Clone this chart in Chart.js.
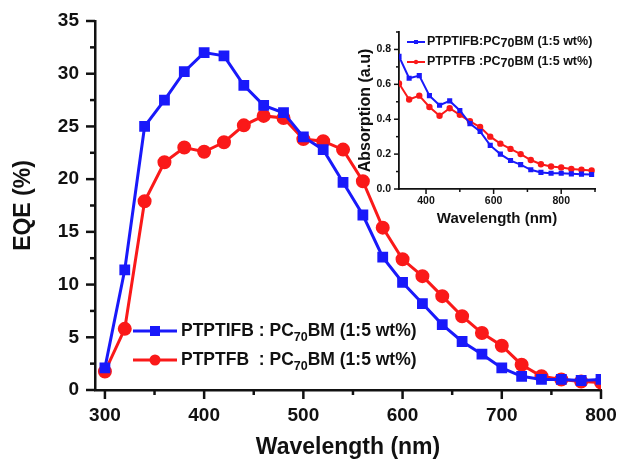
<!DOCTYPE html>
<html>
<head>
<meta charset="utf-8">
<script src="https://cdn.jsdelivr.net/npm/chart.js@4.4.1/dist/chart.umd.min.js"></script>
<style>
  body { margin: 0; background: #fff; }
  #wrap { position: relative; width: 617px; height: 464px; }
  #main { position: absolute; left: 0; top: 0; }
  #inset { position: absolute; left: 352px; top: 22px; }
</style>
</head>
<body>
<div id="wrap">
  <canvas id="main" width="617" height="464"></canvas>
  <canvas id="inset" width="260" height="210"></canvas>
</div>
<script>
// EQE curves (main plot)
const wavelengths = [300, 320, 340, 360, 380, 400, 420, 440, 460, 480, 500, 520, 540,
                     560, 580, 600, 620, 640, 660, 680, 700, 720, 740, 760, 780, 800];
const eqePTPTIFB = [2.1, 11.4, 25.0, 27.5, 30.2, 32.0, 31.7, 28.9, 27.0, 26.3, 24.0, 22.8, 19.7,
                    16.6, 12.6, 10.2, 8.2, 6.2, 4.6, 3.4, 2.1, 1.3, 1.0, 1.0, 0.9, 1.0];
const eqePTPTFB = [1.75, 5.8, 17.9, 21.6, 23.0, 22.6, 23.5, 25.1, 26.0, 25.8, 23.8, 23.6, 22.8,
                   19.8, 15.4, 12.4, 10.8, 8.9, 7.0, 5.4, 4.2, 2.4, 1.3, 1.0, 0.8, 0.7];
const xTicksMain = [300, 350, 400, 450, 500, 550, 600, 650, 700, 750, 800];
const yTicksMain = [0, 2.5, 5, 7.5, 10, 12.5, 15, 17.5, 20, 22.5, 25, 27.5, 30, 32.5, 35];

// absorption curves (inset)
const absWavelengths = [320, 350, 380, 410, 440, 470, 500, 530, 560, 590,
                        620, 650, 680, 710, 740, 770, 800, 830, 860, 890];
const absPTPTIFB = [0.76, 0.635, 0.65, 0.535, 0.48, 0.505, 0.45, 0.375, 0.33, 0.25,
                    0.20, 0.163, 0.14, 0.11, 0.095, 0.09, 0.09, 0.087, 0.085, 0.083];
const absPTPTFB = [0.605, 0.513, 0.535, 0.47, 0.42, 0.463, 0.425, 0.388, 0.355, 0.30,
                   0.26, 0.23, 0.20, 0.166, 0.142, 0.129, 0.123, 0.115, 0.11, 0.106];
const xTicksInset = [400, 500, 600, 700, 800, 900];
const yTicksInset = [0, 0.1, 0.2, 0.3, 0.4, 0.5, 0.6, 0.7, 0.8, 0.9];

const BLUE = 'rgb(25,25,250)';
const RED = 'rgb(250,25,25)';
const FONT = "'Liberation Sans', Arial, sans-serif";

function pts(xs, ys) {
    return xs.map((x, i) => ({ x: x, y: ys[i] }));
}

// outward tick marks, long for major and short for minor
const tickMarks = {
    id: 'tickMarks',
    afterDraw(chart, args, opts) {
        const ctx = chart.ctx;
        ctx.save();
        ctx.strokeStyle = '#111';
        ctx.lineWidth = opts.width;
        ['x', 'y'].forEach(function (id) {
            const s = chart.scales[id];
            s.ticks.forEach(function (t) {
                const major = Math.abs(t.value / opts[id] - Math.round(t.value / opts[id])) < 1e-6;
                const len = major ? opts.major : opts.minor;
                const p = s.getPixelForValue(t.value);
                ctx.beginPath();
                if (id === 'x') {
                    ctx.moveTo(p, s.top);
                    ctx.lineTo(p, s.top + len);
                } else {
                    ctx.moveTo(s.right, p);
                    ctx.lineTo(s.right - len, p);
                }
                ctx.stroke();
            });
        });
        ctx.restore();
    }
};

// legend with subscript "70"
function drawLabel(ctx, x, y, parts) {
    parts.forEach(function (p) {
        ctx.font = p.font;
        ctx.fillText(p.text, x, y + (p.dy || 0));
        x += ctx.measureText(p.text).width;
    });
}

const legendMain = {
    id: 'legendMain',
    afterDraw(chart) {
        const ctx = chart.ctx;
        const rows = [
            { name: 'PTPTIFB : PC', color: BLUE, shape: 'rect', y: 331 },
            { name: 'PTPTFB  : PC', color: RED, shape: 'circle', y: 360 }
        ];
        ctx.save();
        rows.forEach(function (r) {
            ctx.strokeStyle = r.color;
            ctx.fillStyle = r.color;
            ctx.lineWidth = 3;
            ctx.beginPath();
            ctx.moveTo(133, r.y);
            ctx.lineTo(177, r.y);
            ctx.stroke();
            ctx.beginPath();
            if (r.shape === 'rect') {
                ctx.rect(150, r.y - 5, 10, 10);
            } else {
                ctx.arc(155, r.y, 5.5, 0, Math.PI * 2);
            }
            ctx.fill();
            ctx.fillStyle = '#111';
            ctx.textBaseline = 'middle';
            drawLabel(ctx, 181, r.y, [
                { text: r.name, font: 'bold 17.5px ' + FONT },
                { text: '70', font: 'bold 12.5px ' + FONT, dy: 7 },
                { text: 'BM (1:5 wt%)', font: 'bold 17.5px ' + FONT }
            ]);
        });
        ctx.restore();
    }
};

const legendInset = {
    id: 'legendInset',
    afterDraw(chart) {
        const ctx = chart.ctx;
        const rows = [
            { name: 'PTPTIFB:PC', color: BLUE, shape: 'rect', y: 20 },
            { name: 'PTPTFB :PC', color: RED, shape: 'circle', y: 40 }
        ];
        ctx.save();
        rows.forEach(function (r) {
            ctx.strokeStyle = r.color;
            ctx.fillStyle = r.color;
            ctx.lineWidth = 2;
            ctx.beginPath();
            ctx.moveTo(55, r.y);
            ctx.lineTo(73, r.y);
            ctx.stroke();
            ctx.beginPath();
            if (r.shape === 'rect') {
                ctx.rect(62, r.y - 2, 4, 4);
            } else {
                ctx.arc(64, r.y, 2.2, 0, Math.PI * 2);
            }
            ctx.fill();
            ctx.fillStyle = '#111';
            ctx.textBaseline = 'middle';
            drawLabel(ctx, 75, r.y, [
                { text: r.name, font: 'bold 12.5px ' + FONT },
                { text: '70', font: 'bold 12.5px ' + FONT, dy: 2 },
                { text: 'BM (1:5 wt%)', font: 'bold 12.5px ' + FONT }
            ]);
        });
        ctx.restore();
    }
};

function axis(opts) {
    return {
        type: 'linear',
        min: opts.min,
        max: opts.max,
        afterBuildTicks: function (s) { s.ticks = opts.ticks.map(v => ({ value: v })); },
        afterFit: opts.fit,
        grid: { display: false, drawTicks: false },
        border: { display: true, color: '#111', width: opts.border },
        ticks: {
            autoSkip: false,
            maxRotation: 0,
            padding: opts.pad,
            color: '#111',
            font: { family: FONT, weight: 'bold', size: opts.tickSize },
            callback: opts.label
        },
        title: {
            display: true,
            text: opts.title,
            color: '#111',
            font: { family: FONT, weight: 'bold', size: opts.titleSize },
            padding: opts.titlePad
        }
    };
}

// fixed axis boxes so the plot area sits where the layout padding puts it
function fitX(h) {
    return function (s) { s.height = h; s.paddingLeft = 0; s.paddingRight = 0; };
}
function fitY(w) {
    return function (s) { s.width = w; s.paddingTop = 0; s.paddingBottom = 0; };
}

new Chart(document.getElementById('main'), {
    type: 'line',
    data: {
        datasets: [{
            label: 'PTPTIFB : PC70BM (1:5 wt%)',
            data: pts(wavelengths, eqePTPTIFB),
            borderColor: BLUE,
            backgroundColor: BLUE,
            borderWidth: 3,
            pointStyle: 'rect',
            pointRadius: 5.5,
            tension: 0
        }, {
            label: 'PTPTFB  : PC70BM (1:5 wt%)',
            data: pts(wavelengths, eqePTPTFB),
            borderColor: RED,
            backgroundColor: RED,
            borderWidth: 3,
            pointStyle: 'circle',
            pointRadius: 5.5,
            tension: 0
        }]
    },
    options: {
        responsive: false,
        animation: false,
        layout: { padding: { top: 21, right: 16, left: 0, bottom: 0 } },
        plugins: {
            legend: { display: false },
            tooltip: { enabled: false },
            tickMarks: { x: 100, y: 5, major: 9, minor: 5, width: 2.5 }
        },
        scales: {
            x: axis({
                min: 290, max: 800, ticks: xTicksMain, border: 2.5, pad: 14, tickSize: 19,
                label: v => (v % 100 === 0 ? v : ''), title: 'Wavelength (nm)', titleSize: 23,
                titlePad: { top: 0, bottom: 3 },
                fit: fitX(74)
            }),
            y: axis({
                min: 0, max: 35, ticks: yTicksMain, border: 2.5, pad: 16, tickSize: 19,
                label: v => (v % 5 === 0 ? v : ''), title: 'EQE (%)', titleSize: 23,
                titlePad: { top: 10, bottom: 0 },
                fit: fitY(95)
            })
        }
    },
    plugins: [tickMarks, legendMain]
});

new Chart(document.getElementById('inset'), {
    type: 'line',
    data: {
        datasets: [{
            label: 'PTPTIFB:PC70BM (1:5 wt%)',
            data: pts(absWavelengths, absPTPTIFB),
            borderColor: BLUE,
            backgroundColor: BLUE,
            borderWidth: 2,
            pointStyle: 'rect',
            pointRadius: 2.2,
            tension: 0
        }, {
            label: 'PTPTFB :PC70BM (1:5 wt%)',
            data: pts(absWavelengths, absPTPTFB),
            borderColor: RED,
            backgroundColor: RED,
            borderWidth: 2,
            pointStyle: 'circle',
            pointRadius: 2.2,
            tension: 0
        }]
    },
    options: {
        responsive: false,
        animation: false,
        layout: { padding: { top: 10, right: 17, left: 0, bottom: 0 } },
        plugins: {
            legend: { display: false },
            tooltip: { enabled: false },
            tickMarks: { x: 200, y: 0.2, major: 5, minor: 3, width: 1.5 }
        },
        scales: {
            x: axis({
                min: 320, max: 900, ticks: xTicksInset, border: 1.8, pad: 6, tickSize: 10.5,
                label: v => (v % 200 === 0 ? v : ''), title: 'Wavelength (nm)', titleSize: 15,
                titlePad: { top: 0, bottom: 4 },
                fit: fitX(43)
            }),
            y: axis({
                min: 0, max: 0.9, ticks: yTicksInset, border: 1.8, pad: 8, tickSize: 10.5,
                label: v => (Math.round(v * 10) % 2 === 0 && v < 0.85 ? v.toFixed(1) : ''),
                title: 'Absorption (a.u)', titleSize: 16,
                titlePad: { top: 4, bottom: 0 },
                fit: fitY(47)
            })
        }
    },
    plugins: [tickMarks, legendInset]
});
</script>
</body>
</html>
